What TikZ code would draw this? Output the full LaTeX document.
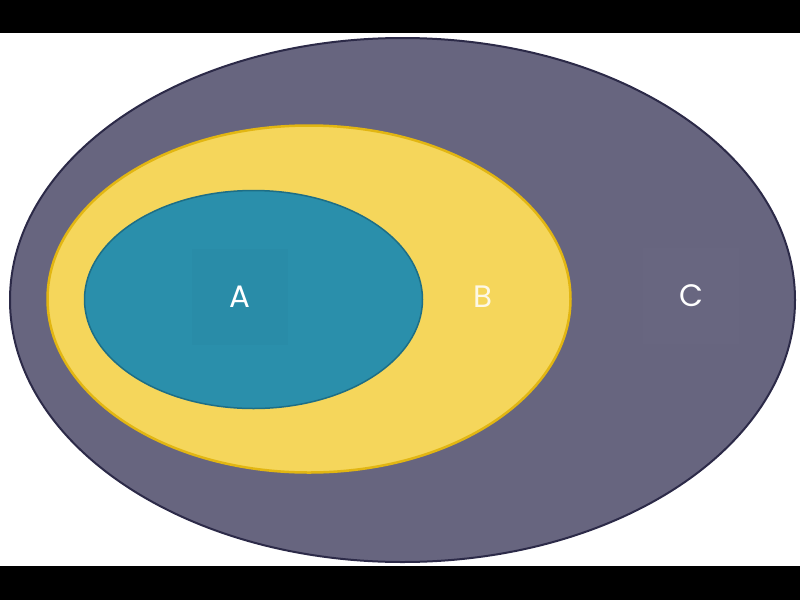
\documentclass[tikz,border=0pt]{standalone}
\usepackage{fontspec}
\setmainfont{Poppins}
\usetikzlibrary{shapes.geometric}
\definecolor{outerfill}{HTML}{67657F}
\definecolor{outerline}{HTML}{2C2A48}
\definecolor{yelfill}{HTML}{F5D65B}
\definecolor{yelline}{HTML}{E2B612}
\definecolor{tealfill}{HTML}{2A8FAB}
\definecolor{tealline}{HTML}{1D6E86}
\tikzset{
  lbl/.style={text=white, font=\fontsize{31}{33}\selectfont, minimum width=96pt, minimum height=96pt, inner sep=0pt},
  bar/.style={fill=black, draw=none}
}
\begin{document}
\begin{tikzpicture}[x=1pt,y=-1pt]
\useasboundingbox (0,0) rectangle (800,600);
\fill[white] (0,0) rectangle (800,600);
\fill[bar] (0,0) rectangle (800,33);
\fill[bar] (0,566) rectangle (800,600);
\node[ellipse, minimum width=785pt, minimum height=524pt, fill=outerfill, draw=outerline, line width=2pt] (C) at (402.5,300) {};
\node[ellipse, minimum width=523pt, minimum height=347pt, fill=yelfill, draw=yelline, line width=2.5pt] (B) at (309,299) {};
\node[ellipse, minimum width=338pt, minimum height=218pt, fill=tealfill, draw=tealline, line width=1.5pt] (A) at (253.5,299.5) {};
\node[lbl, fill=black, fill opacity=0.015, text opacity=1] (la) at (240,297) {A};
\node[lbl, text opacity=0.85] (lb) at (483,297) {B};
\node[lbl, fill=white, fill opacity=0.012, text opacity=1] (lc) at (691,296) {C};
\end{tikzpicture}
\end{document}
